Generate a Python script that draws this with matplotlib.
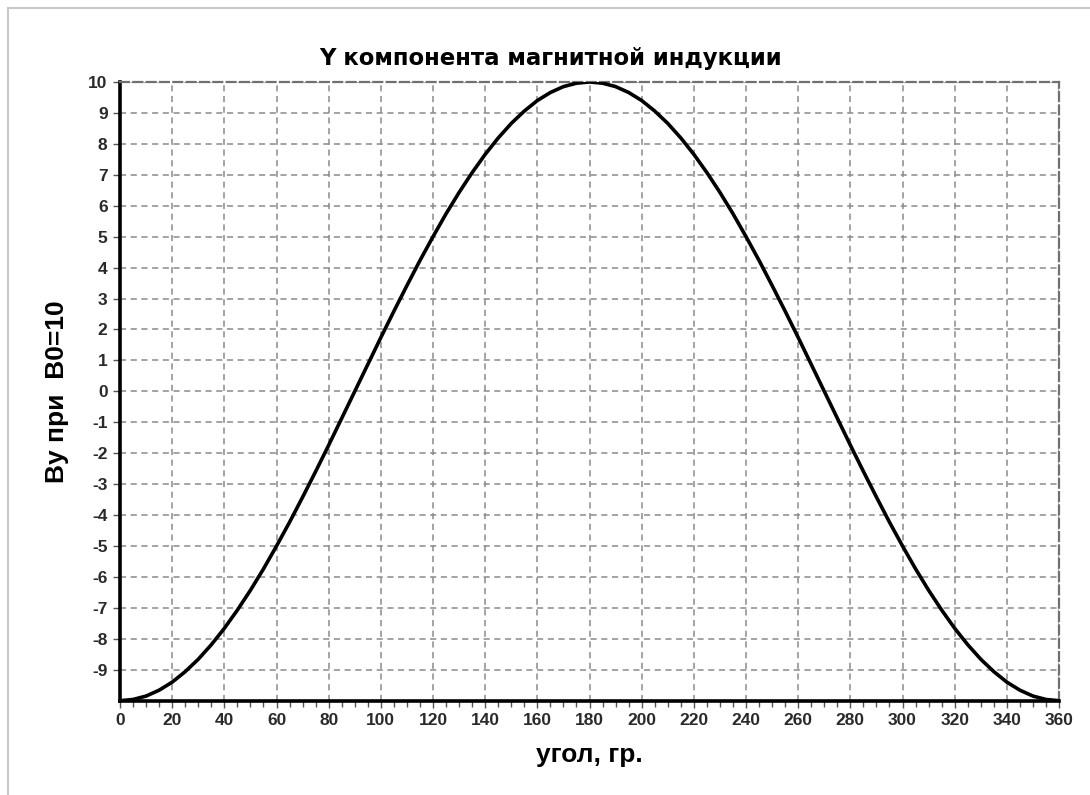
import numpy as np
import matplotlib.pyplot as plt
from matplotlib.patches import Rectangle
from matplotlib.ticker import MultipleLocator

plt.rcParams['font.family'] = ['Liberation Sans', 'DejaVu Sans']
plt.rcParams['axes.unicode_minus'] = False

angle = list(range(0, 365, 5))
by_rise = [-10.00, -9.96, -9.85, -9.66, -9.40, -9.06, -8.66, -8.19, -7.66, -7.07,
           -6.43, -5.74, -5.00, -4.23, -3.42, -2.59, -1.74, -0.87, 0.00, 0.87,
           1.74, 2.59, 3.42, 4.23, 5.00, 5.74, 6.43, 7.07, 7.66, 8.19,
           8.66, 9.06, 9.40, 9.66, 9.85, 9.96, 10.00]
by_fall = [9.96, 9.85, 9.66, 9.40, 9.06, 8.66, 8.19, 7.66, 7.07, 6.43,
           5.74, 5.00, 4.23, 3.42, 2.59, 1.74, 0.87, 0.00, -0.87, -1.74,
           -2.59, -3.42, -4.23, -5.00, -5.74, -6.43, -7.07, -7.66, -8.19, -8.66,
           -9.06, -9.40, -9.66, -9.85, -9.96, -10.00]
by = by_rise + by_fall

x_ticks = list(range(0, 361, 20))
y_ticks = list(range(-9, 11))

fig = plt.figure(figsize=(10.9, 7.95), dpi=100)
ax = fig.add_axes([0.1101, 0.1186, 0.8615, 0.7783])

# light frame around the picture
fig.patches.append(Rectangle((8 / 1090, -0.05), 1.2, 1 - 8 / 795 + 0.05,
                             transform=fig.transFigure, fill=False,
                             edgecolor='#c8c8c8', linewidth=1.5))

ax.plot(angle, by, color='black', linewidth=2.6, solid_capstyle='round', zorder=3)

ax.set_xlim(0, 360)
ax.set_ylim(-10, 10)
ax.set_xticks(x_ticks)
ax.set_yticks(y_ticks)
ax.xaxis.set_minor_locator(MultipleLocator(5))

ax.grid(True, which='major', color='#8a8a8a', linestyle=(0, (4, 3)), linewidth=1.1)
for side in ['top', 'right']:
    ax.spines[side].set_color('#707070')
    ax.spines[side].set_linestyle((0, (4, 2)))
    ax.spines[side].set_linewidth(1.6)
for side in ['left', 'bottom']:
    ax.spines[side].set_color('black')
    ax.spines[side].set_linewidth(2.6)

ax.tick_params(axis='both', which='major', direction='out', length=5, width=1,
               color='#555555', labelsize=12.5, pad=4)
ax.tick_params(axis='x', which='minor', direction='out', length=4, width=1,
               color='#555555')
for lab in ax.get_xticklabels() + ax.get_yticklabels():
    lab.set_fontweight('bold')
    lab.set_color('#2a2a2a')

# the title sits a bit left of the plot centre in the original
ax.set_title('Y компонента магнитной индукции', fontsize=16.4, fontweight='bold',
             family=['DejaVu Sans'], pad=12, x=0.458)
ax.set_xlabel('угол, гр.', fontsize=19, fontweight='bold', labelpad=11)
ax.set_ylabel('By при  B0=10', fontsize=19, fontweight='bold', labelpad=14)

fig.savefig('out.png', dpi=100)
